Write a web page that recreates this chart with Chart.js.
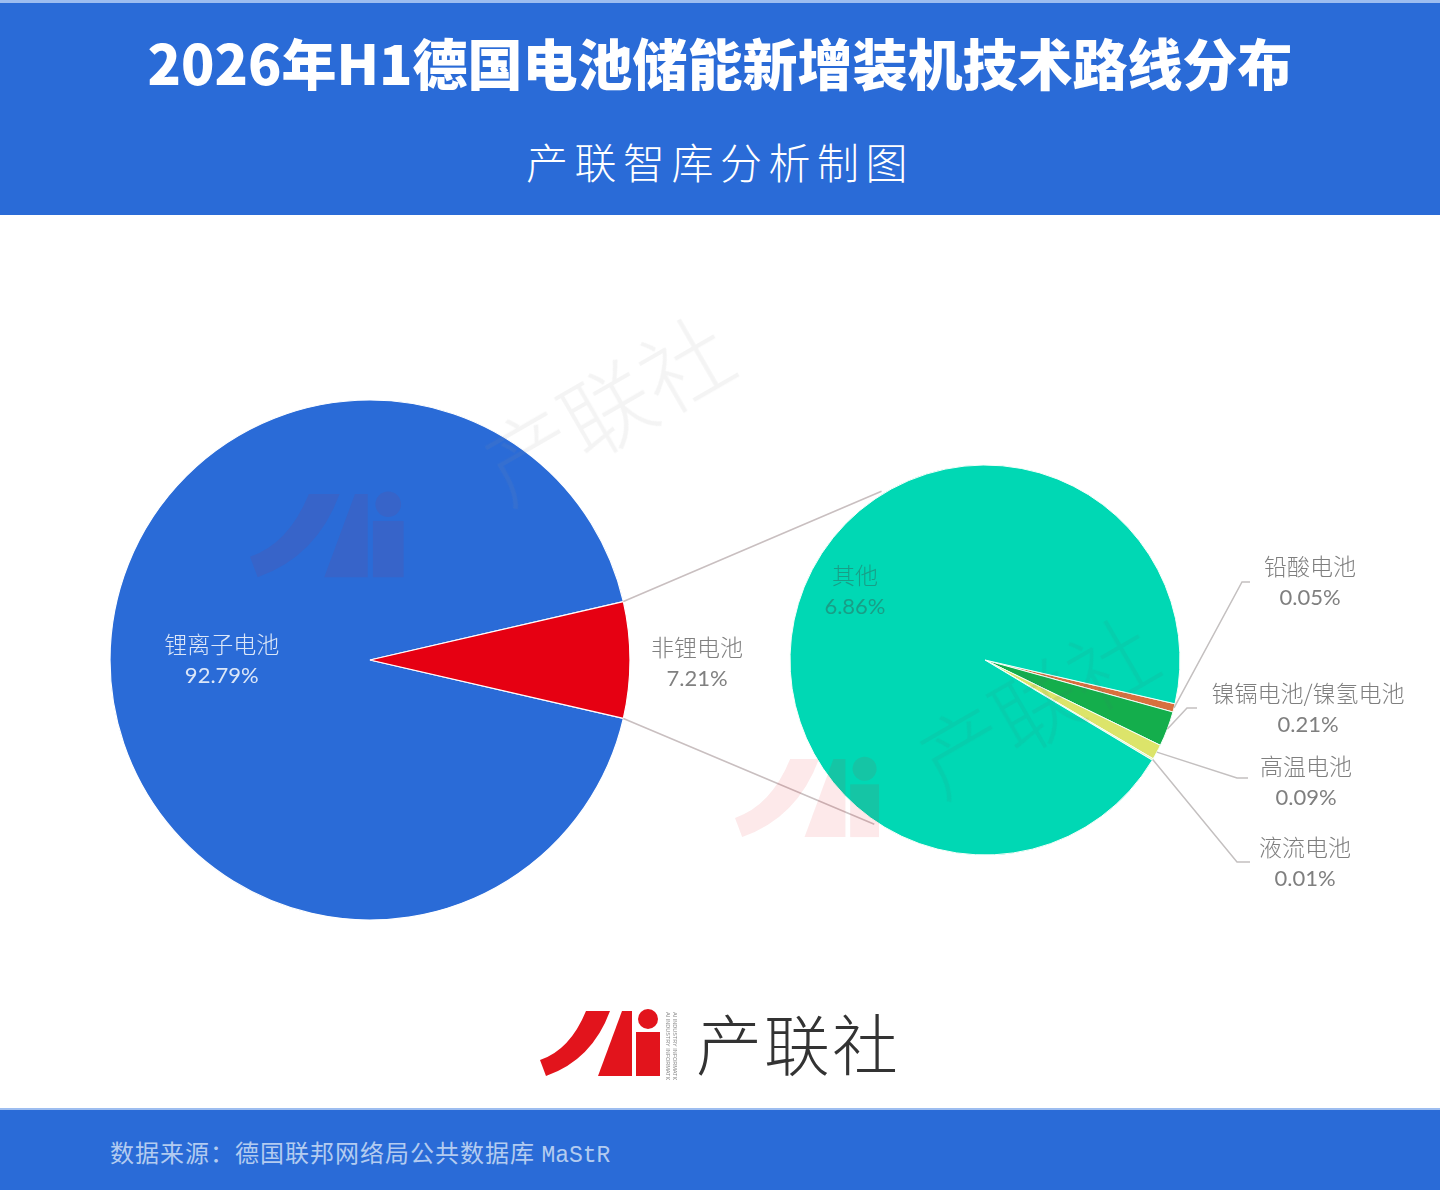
<!DOCTYPE html>
<html><head><meta charset="utf-8">
<script src="https://cdn.jsdelivr.net/npm/chart.js@4.4.1/dist/chart.umd.min.js"></script>
<style>
html,body{margin:0;padding:0;width:1440px;height:1190px;overflow:hidden;background:#fff;font-family:'Noto Sans CJK SC',sans-serif;}
#header{position:absolute;left:0;top:0;width:1440px;height:215px;background:#2A6BD7;border-top:3px solid #9dbdf0;box-sizing:border-box;}
#title{position:absolute;left:0;top:20px;width:100%;text-align:center;color:#fff;font-size:55px;font-weight:900;line-height:76px;letter-spacing:0px;}
#subtitle{position:absolute;left:0;top:128px;width:100%;text-align:center;color:#fff;font-size:42px;font-weight:300;line-height:60px;letter-spacing:6.5px;}
#wrap{position:absolute;left:0;top:215px;width:1440px;height:890px;}
#wrap canvas{position:absolute;left:0;top:0;}
#footer{position:absolute;left:0;top:1108px;width:1440px;height:82px;background:#2A6BD7;border-top:2px solid #9dbdf0;box-sizing:border-box;}
#source{position:absolute;left:110px;top:27px;color:#b3cbf0;font-size:24px;line-height:30px;font-family:'Noto Sans CJK SC',sans-serif;font-weight:400;letter-spacing:1px;white-space:nowrap;}
#source span{font-family:'Liberation Mono','DejaVu Sans Mono',monospace;font-size:23px;letter-spacing:0;}
#logo{position:absolute;left:540px;top:1008px;}
#brand{position:absolute;left:696px;top:996px;font-size:66px;line-height:90px;color:#333;font-weight:300;letter-spacing:2px;}
.wm{position:absolute;pointer-events:none;}
.wmt{font-weight:300;white-space:nowrap;transform-origin:center center;text-align:center;line-height:1;}
</style></head>
<body>
<div id="header">
  <div id="title">2026年H1德国电池储能新增装机技术路线分布</div>
  <div id="subtitle">产联智库分析制图</div>
</div>
<div id="wrap">
  <canvas id="mainPie" width="1440" height="890"></canvas>
  <canvas id="subPie" width="1440" height="890"></canvas>
</div>
<!-- faint watermarks -->
<div class="wm wmt" style="left:470px;top:360px;width:270px;font-size:90px;color:rgba(150,150,150,0.10);transform:rotate(-30deg);">产联社</div>
<div class="wm wmt" style="left:905px;top:660px;width:260px;font-size:86px;color:rgba(60,120,110,0.10);transform:rotate(-30deg);">产联社</div>
<svg class="wm" style="left:250px;top:470px;opacity:0.07" width="160" height="130" viewBox="0 0 125 70"><path d="M0,52 Q30,42 46,3 L70,3 Q52,52 6,68 Z" fill="#E2141C"/><polygon points="58,68 82,3 92,3 92,68" fill="#E2141C"/><rect x="96" y="24" width="24" height="44" fill="#E2141C"/><circle cx="108" cy="11" r="10" fill="#E2141C"/></svg>
<svg class="wm" style="left:735px;top:735px;opacity:0.09" width="150" height="125" viewBox="0 0 125 70"><path d="M0,52 Q30,42 46,3 L70,3 Q52,52 6,68 Z" fill="#E2141C"/><polygon points="58,68 82,3 92,3 92,68" fill="#E2141C"/><rect x="96" y="24" width="24" height="44" fill="#E2141C"/><circle cx="108" cy="11" r="10" fill="#E2141C"/></svg>

<svg id="logo" width="140" height="72" viewBox="0 0 140 72">
  <path d="M0,52 Q30,42 46,3 L70,3 Q52,52 6,68 Z" fill="#E2141C"/>
  <polygon points="58,68 82,3 92,3 92,68" fill="#E2141C"/>
  <rect x="96" y="24" width="24" height="44" fill="#E2141C"/>
  <circle cx="108" cy="11" r="10" fill="#E2141C"/>
  <text x="0" y="0" transform="translate(126,4) rotate(90)" font-size="5.5" fill="#888" font-family="Liberation Sans">AI INDUSTRY INFORMATION</text>
  <text x="0" y="0" transform="translate(133,4) rotate(90)" font-size="5.5" fill="#888" font-family="Liberation Sans">AI INDUSTRY INFORMATION</text>
</svg>
<div id="brand">产联社</div>

<div id="footer"><div id="source">数据来源：德国联邦网络局公共数据库 <span>MaStR</span></div></div>

<script>
// ---- data ----
const mainCategories = ['锂离子电池', '非锂电池'];
const mainValues = [92.79, 7.21];
const subCategories = ['铅酸电池', '镍镉电池/镍氢电池', '高温电池', '液流电池', '其他'];
const subValues = [0.05, 0.21, 0.09, 0.01, 6.86];

// ---- styles ----
const mainColors = ['#2A6BD7', '#E60012'];
const subColors = ['#D8703E', '#14AE4C', '#DCE46A', '#EEF0A8', '#00D8B4'];
const CJK = "'Noto Sans CJK SC', sans-serif";
const NUM = "Lato, 'Open Sans', sans-serif";

function fmt(v) { return v.toFixed(2) + '%'; }

function drawLabel(ctx, x, y, name, value, color, gap) {
  ctx.save();
  ctx.fillStyle = color;
  ctx.textAlign = 'center';
  ctx.textBaseline = 'middle';
  ctx.font = '300 23px ' + CJK;
  ctx.fillText(name, x, y - gap);
  ctx.font = '22px ' + NUM;
  ctx.fillText(value, x, y + gap);
  ctx.restore();
}

const deg = Math.PI / 180;
const nonLiSpan = mainValues[1] / mainValues.reduce((a, b) => a + b, 0) * 360;

// main pie labels: [fraction of radius] placed at each arc's mid angle
const mainLabelLayout = [
  { f: 0.57, color: '#dce7f8', dy: 0 },
  { f: 1.258, color: '#808080', dy: 3 }
];

const mainLabelPlugin = {
  id: 'mainLabels',
  afterDatasetsDraw(chart) {
    const ctx = chart.ctx;
    chart.getDatasetMeta(0).data.forEach((arc, i) => {
      const mid = (arc.startAngle + arc.endAngle) / 2;
      const L = mainLabelLayout[i];
      const x = arc.x + Math.cos(mid) * arc.outerRadius * L.f;
      const y = arc.y + Math.sin(mid) * arc.outerRadius * L.f + L.dy;
      drawLabel(ctx, x, y, mainCategories[i], fmt(mainValues[i]), L.color, 16);
    });
  }
};

const mainChart = new Chart(document.getElementById('mainPie'), {
  type: 'pie',
  data: {
    labels: mainCategories,
    datasets: [{ data: mainValues, backgroundColor: mainColors, borderColor: '#ffffff', borderWidth: 1.2 }]
  },
  options: {
    responsive: false, animation: false,
    radius: 260,
    rotation: 90 + nonLiSpan / 2,
    layout: { padding: { left: 110, right: 810, top: 185, bottom: 185 } },
    plugins: { legend: { display: false }, tooltip: { enabled: false } }
  },
  plugins: [mainLabelPlugin]
});

// leader/label layout for the sub pie (offsets from pie centre)
const subLabelLayout = [
  { elbow: [257, -78], end: 8, text: [325, -78], gap: 16 },
  { elbow: [202, 48], end: 10, text: [323, 49], gap: 16 },
  { elbow: [252, 118], end: 11, text: [321, 122], gap: 16 },
  { elbow: [252, 202], end: 13, text: [320, 203], gap: 16 },
  { inside: true, f: 0.755, angleShift: 6, color: 'rgba(40,120,105,0.6)' }
];

const connectorPlugin = {
  id: 'connectors',
  beforeDatasetsDraw(chart) {
    const ctx = chart.ctx;
    const red = mainChart.getDatasetMeta(0).data[1];
    const big = chart.getDatasetMeta(0).data[4];
    const p1 = [red.x + Math.cos(red.startAngle) * red.outerRadius, red.y + Math.sin(red.startAngle) * red.outerRadius];
    const p2 = [red.x + Math.cos(red.endAngle) * red.outerRadius, red.y + Math.sin(red.endAngle) * red.outerRadius];
    const r = big.outerRadius + 3;
    const q1 = [big.x + Math.cos(238.5 * deg) * r, big.y + Math.sin(238.5 * deg) * r];
    const q2 = [big.x + Math.cos(124 * deg) * r, big.y + Math.sin(124 * deg) * r];
    ctx.save();
    ctx.strokeStyle = '#c9bfc0';
    ctx.lineWidth = 1.6;
    ctx.beginPath();
    ctx.moveTo(p1[0], p1[1]); ctx.lineTo(q1[0], q1[1]);
    ctx.moveTo(p2[0], p2[1]); ctx.lineTo(q2[0], q2[1]);
    ctx.stroke();
    ctx.restore();
  },
  afterDatasetsDraw(chart) {
    const ctx = chart.ctx;
    chart.getDatasetMeta(0).data.forEach((arc, i) => {
      const L = subLabelLayout[i];
      const mid = (arc.startAngle + arc.endAngle) / 2;
      if (L.inside) {
        const a = mid + L.angleShift * deg;
        const x = arc.x + Math.cos(a) * arc.outerRadius * L.f;
        const y = arc.y + Math.sin(a) * arc.outerRadius * L.f;
        drawLabel(ctx, x, y, subCategories[i], fmt(subValues[i]), L.color, 16);
        return;
      }
      const sx = arc.x + Math.cos(mid) * arc.outerRadius;
      const sy = arc.y + Math.sin(mid) * arc.outerRadius;
      const ex = arc.x + L.elbow[0], ey = arc.y + L.elbow[1];
      ctx.save();
      ctx.strokeStyle = '#c4c0c0';
      ctx.lineWidth = 1.5;
      ctx.beginPath();
      ctx.moveTo(sx, sy); ctx.lineTo(ex, ey); ctx.lineTo(ex + L.end, ey);
      ctx.stroke();
      ctx.restore();
      drawLabel(ctx, arc.x + L.text[0], arc.y + L.text[1], subCategories[i], fmt(subValues[i]), '#7f7f7f', L.gap);
    });
  }
};

const subChart = new Chart(document.getElementById('subPie'), {
  type: 'pie',
  data: {
    labels: subCategories,
    datasets: [{ data: subValues, backgroundColor: subColors, borderColor: '#f4fff9', borderWidth: 1 }]
  },
  options: {
    responsive: false, animation: false,
    radius: 195,
    rotation: 90 + nonLiSpan / 2,
    layout: { padding: { left: 790, right: 260, top: 250, bottom: 250 } },
    plugins: { legend: { display: false }, tooltip: { enabled: false } }
  },
  plugins: [connectorPlugin]
});
</script>
</body></html>
